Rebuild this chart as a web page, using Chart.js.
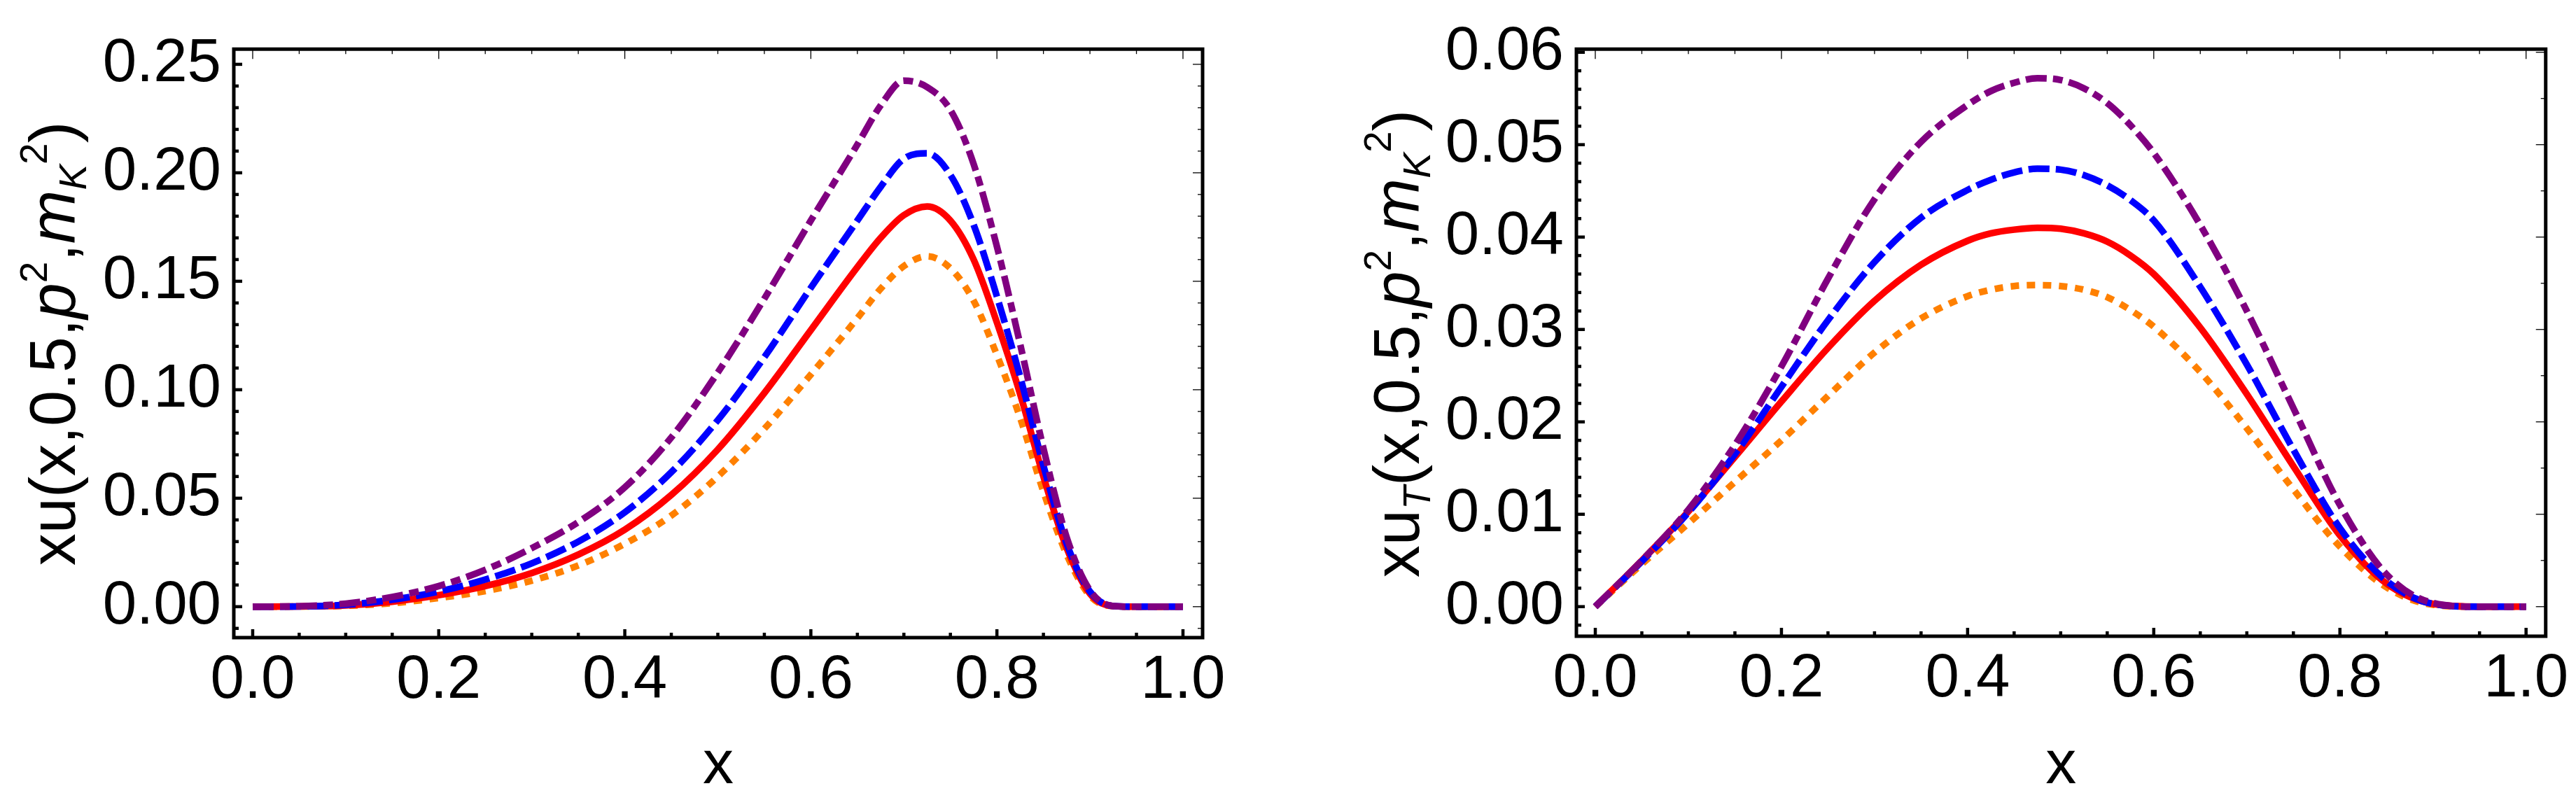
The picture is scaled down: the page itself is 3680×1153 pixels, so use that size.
<!DOCTYPE html>
<html>
<head>
<meta charset="utf-8">
<script src="https://cdn.jsdelivr.net/npm/chart.js@4.4.1/dist/chart.umd.min.js"></script>
<style>
  html,body{margin:0;padding:0;background:#fff;}
  body{width:3680px;height:1153px;position:relative;overflow:hidden;}
  .panel{position:absolute;top:0;width:1840px;height:1153px;}
</style>
</head>
<body>
<div class="panel" style="left:0"><canvas id="cLeft" width="1840" height="1153"></canvas></div>
<div class="panel" style="left:1840px"><canvas id="cRight" width="1840" height="1153"></canvas></div>
<script>
// ---- data ----
const xL = [0,0.05,0.1,0.15,0.2,0.25,0.3,0.35,0.4,0.45,0.5,0.55,0.6,0.65,0.675,0.7,0.725,0.75,0.775,0.8,0.825,0.85,0.875,0.9,0.925,0.95,1.0];
const uPurple = [0,0.0002,0.0014,0.0045,0.0095,0.017,0.027,0.039,0.055,0.078,0.108,0.142,0.178,0.213,0.231,0.2425,0.2395,0.229,0.204,0.166,0.121,0.073,0.032,0.0075,0.0003,0,0];
const uBlue   = [0,0.0001,0.0009,0.0032,0.007,0.0125,0.020,0.030,0.0435,0.062,0.086,0.115,0.147,0.178,0.1935,0.2065,0.209,0.199,0.176,0.143,0.106,0.065,0.029,0.007,0.0003,0,0];
const uRed    = [0,0.0001,0.0006,0.0023,0.0053,0.0095,0.0155,0.024,0.0355,0.0515,0.0725,0.0985,0.1275,0.1565,0.170,0.1805,0.1845,0.178,0.160,0.131,0.098,0.060,0.027,0.006,0.0003,0,0];
const uOrange = [0,0.0001,0.0004,0.0016,0.004,0.0072,0.012,0.019,0.029,0.042,0.060,0.082,0.107,0.133,0.1465,0.157,0.1615,0.156,0.141,0.116,0.087,0.053,0.024,0.005,0.0002,0,0];

const xR = [0,0.05,0.1,0.15,0.2,0.25,0.3,0.35,0.4,0.425,0.45,0.475,0.5,0.525,0.55,0.575,0.6,0.65,0.7,0.75,0.8,0.85,0.9,0.95,1.0];
const uTPurple = [0,0.0050,0.0105,0.0175,0.0260,0.0355,0.0441,0.0503,0.0543,0.0558,0.0567,0.0572,0.0570,0.0561,0.0545,0.0521,0.0491,0.0413,0.0320,0.0215,0.0110,0.0035,0.0004,0,0];
const uTBlue   = [0,0.0049,0.0102,0.0165,0.0238,0.0310,0.0373,0.0421,0.0451,0.0462,0.0470,0.0474,0.0473,0.0467,0.0456,0.0440,0.0418,0.0346,0.0262,0.0170,0.0085,0.0028,0.0003,0,0];
const uTRed    = [0,0.0050,0.0103,0.0162,0.0222,0.0280,0.0331,0.0370,0.0396,0.0404,0.0408,0.0410,0.0409,0.0404,0.0395,0.0380,0.0360,0.0302,0.0230,0.0152,0.0077,0.0025,0.0003,0,0];
const uTOrange = [0,0.0046,0.0090,0.0135,0.0180,0.0228,0.0275,0.0312,0.0336,0.0343,0.0347,0.0348,0.0347,0.0343,0.0335,0.0321,0.0303,0.0254,0.0193,0.0127,0.0065,0.0021,0.0002,0,0];

const xTicks  = [0,0.2,0.4,0.6,0.8,1.0];
const yTicksL = [0,0.05,0.10,0.15,0.20,0.25];
const yTicksR = [0,0.01,0.02,0.03,0.04,0.05,0.06];

const FONT = '"Liberation Sans", Arial, sans-serif';

// styles for the four curves
const styles = {
  purple: {color:'#800080', dash:[30,9,14,9], order:1},
  blue:   {color:'#0000ff', dash:[30,9],       order:2},
  red:    {color:'#ff0000', dash:[],           order:3},
  orange: {color:'#ff8000', dash:[12,11],      order:4}
};

function ds(xs, ys, st){
  return {
    data: xs.map((x,i)=>({x:x, y:ys[i]})),
    borderColor: st.color, borderWidth: 9.5, borderDash: st.dash, borderCapStyle:'butt',
    pointRadius: 0, fill:false, cubicInterpolationMode:'monotone', order: st.order
  };
}

function steps(min, max, step){
  const out=[];
  for(let k=Math.ceil(min/step-1e-9); k*step<=max+1e-9; k++) out.push(k*step);
  return out;
}
function isMult(v, step){ return Math.abs(v/step - Math.round(v/step)) < 1e-6; }

// inward frame ticks, frame, and rich y title
const framePlugin = {
  id:'framePlugin',
  afterDatasetsDraw(chart, args, o){
    const {ctx, chartArea:a, scales:{x, y}} = chart;
    ctx.save();
    ctx.strokeStyle = '#000';
    ctx.lineCap = 'butt';
    // x ticks
    steps(x.min, x.max, o.xMinor).forEach(v=>{
      const px = x.getPixelForValue(v);
      if(px < a.left+3 || px > a.right-3) return;
      const maj = isMult(v, o.xMajor);
      ctx.lineWidth = 4.5;
      ctx.beginPath(); ctx.moveTo(px, a.bottom); ctx.lineTo(px, a.bottom-(maj?12:7)); ctx.stroke();
      ctx.lineWidth = 1.3;
      ctx.beginPath(); ctx.moveTo(px, a.top); ctx.lineTo(px, a.top+(maj?14:7)); ctx.stroke();
    });
    // y ticks, left side
    steps(y.min, y.max, o.yMinorL).forEach(v=>{
      const py = y.getPixelForValue(v);
      if(py < a.top+3 || py > a.bottom-3) return;
      const maj = isMult(v, o.yMajor);
      ctx.lineWidth = 4.5;
      ctx.beginPath(); ctx.moveTo(a.left, py); ctx.lineTo(a.left+(maj?12:7), py); ctx.stroke();
    });
    // y ticks, right side
    steps(y.min, y.max, o.yMinorR).forEach(v=>{
      const py = y.getPixelForValue(v);
      if(py < a.top+3 || py > a.bottom-3) return;
      const maj = isMult(v, o.yMajor);
      ctx.lineWidth = 1.3;
      ctx.beginPath(); ctx.moveTo(a.right, py); ctx.lineTo(a.right-(maj?14:7), py); ctx.stroke();
    });
    ctx.lineWidth = 5;
    ctx.strokeRect(a.left, a.top, a.right-a.left, a.bottom-a.top);
    ctx.restore();
  },
  afterDraw(chart, args, o){
    const ctx = chart.ctx;
    const base = 92, small = 55;
    const parts = o.title;
    ctx.save();
    ctx.fillStyle = '#000';
    ctx.textBaseline = 'alphabetic';
    ctx.textAlign = 'left';
    const fontOf = p => (p.it ? 'italic ' : '') + (p.sub||p.sup ? small : base) + 'px ' + FONT;
    let total = 0;
    parts.forEach(p=>{ ctx.font = fontOf(p); total += ctx.measureText(p.t).width + (p.gap||0); });
    ctx.translate(o.titleX, o.titleY);
    ctx.rotate(-Math.PI/2);
    let cx = -total/2;
    parts.forEach(p=>{
      ctx.font = fontOf(p);
      const dy = p.sup ? -40 : (p.sub ? 16 : 0);
      ctx.fillText(p.t, cx, dy);
      cx += ctx.measureText(p.t).width + (p.gap||0);
    });
    ctx.restore();
  }
};

function makeChart(id, xs, series, yTicks, yMin, yMax, area, opts){
  const el = document.getElementById(id);
  return new Chart(el.getContext('2d'), {
    type:'line',
    data:{ datasets: [
      ds(xs, series[0], styles.purple),
      ds(xs, series[1], styles.blue),
      ds(xs, series[2], styles.red),
      ds(xs, series[3], styles.orange)
    ]},
    options:{
      responsive:false, animation:false, devicePixelRatio:1,
      layout:{ padding:{ top: area.top, right: 1840-area.right, left:0, bottom:0 } },
      plugins:{ legend:{display:false}, tooltip:{enabled:false}, framePlugin: opts },
      scales:{
        x:{
          type:'linear', min:-0.0203, max:1.0211,
          afterBuildTicks: s => { s.ticks = xTicks.map(v=>({value:v})); },
          afterFit: s => { s.height = 1153 - area.bottom; },
          grid:{display:false, drawTicks:false}, border:{display:false},
          ticks:{ autoSkip:false, maxRotation:0, padding:10, color:'#000',
                  font:{family:FONT, size:87}, callback: v => v.toFixed(1) },
          title:{ display:true, text:'x', color:'#000', font:{family:FONT, size:88}, padding:{top:0, bottom:5} }
        },
        y:{
          type:'linear', min:yMin, max:yMax,
          afterBuildTicks: s => { s.ticks = yTicks.map(v=>({value:v})); },
          afterFit: s => { s.width = area.left; },
          grid:{display:false, drawTicks:false}, border:{display:false},
          ticks:{ autoSkip:false, padding:18, color:'#000',
                  font:{family:FONT, size:87}, callback: v => v.toFixed(2) }
        }
      }
    },
    plugins:[framePlugin]
  });
}

const titleL = [
  {t:'xu(x,0.5,'}, {t:'p', it:true}, {t:'2', sup:true}, {t:','},
  {t:'m', it:true}, {t:'K', it:true, sub:true}, {t:'2', sup:true}, {t:')'}
];
const titleR = [
  {t:'xu'}, {t:'T', it:true, sub:true}, {t:'(x,0.5,'}, {t:'p', it:true}, {t:'2', sup:true}, {t:','},
  {t:'m', it:true}, {t:'K', it:true, sub:true}, {t:'2', sup:true}, {t:')'}
];

makeChart('cLeft', xL, [uPurple,uBlue,uRed,uOrange], yTicksL, -0.01426, 0.257,
  {left:334, right:1718, top:55, bottom:911},
  {xMajor:0.2, xMinor:0.05, yMajor:0.05, yMinorL:0.01, yMinorR:0.01, title:titleL, titleX:107, titleY:491});

makeChart('cRight', xR, [uTPurple,uTBlue,uTRed,uTOrange], yTicksR, -0.0032, 0.06034,
  {left:412, right:1797, top:55, bottom:909},
  {xMajor:0.2, xMinor:0.05, yMajor:0.01, yMinorL:0.002, yMinorR:0.005, title:titleR, titleX:187, titleY:491});
</script>
</body>
</html>
